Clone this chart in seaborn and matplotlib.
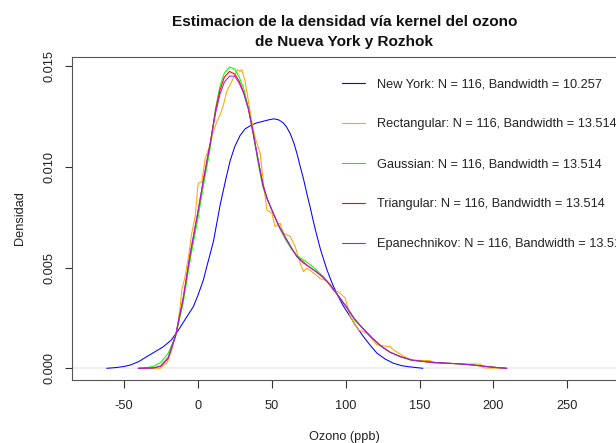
import matplotlib
matplotlib.use("Agg")
import matplotlib.pyplot as plt
from matplotlib.lines import Line2D
import pandas as pd
import seaborn as sns

# ---------------- data ----------------
ny_x = [-61.6, -55, -50, -45.8, -40, -34.5, -29, -23.3, -18, -13.5, -7.4, -3, 0, 3.8,
        6.1, 10.6, 15.1, 19, 21.9, 25, 28.6, 32, 36.5, 40, 44.4, 48, 51.5, 55, 57.9, 60,
        62.5, 65, 67, 69, 71.5, 74, 76, 78, 80.5, 83, 87.3, 91, 94.1, 98, 103.1, 107,
        112.1, 116, 121.2, 127, 132.4, 138, 143.7, 152.3]
ny_y = [0.0, 0.00004, 0.00009, 0.00016, 0.00033, 0.00058, 0.00082, 0.00107, 0.00140,
        0.00185, 0.00256, 0.00306, 0.00360, 0.00439, 0.00505, 0.00630, 0.00810, 0.00940,
        0.01030, 0.01100, 0.01155, 0.01188, 0.01208, 0.01218, 0.01226, 0.01233, 0.01238,
        0.01232, 0.01217, 0.01198, 0.01165, 0.01118, 0.01068, 0.01010, 0.00940, 0.00860,
        0.00800, 0.00735, 0.00660, 0.00590, 0.00490, 0.00420, 0.00370, 0.00315, 0.00256,
        0.00210, 0.00157, 0.00120, 0.00075, 0.00045, 0.00025, 0.00013, 0.00007, 0.0]

rect_x = [-40.2, -25.3, -23.3, -21, -17.6, -14.2, -12, -10.8, -8.6, -6.3, -4.1, -1.8, 0.0,
          0.5, 2.7, 5, 8.3, 10.6, 12.9, 15.1, 17.4, 19.6, 23, 25.2, 26.8, 28.6, 29.8, 32,
          34.3, 36.5, 38.8, 40, 42.2, 44.4, 46.7, 50.1, 52.3, 55.7, 57.9, 62.5, 65.9, 69.3,
          71.5, 73.8, 77.2, 82.8, 87.3, 91.7, 95.1, 99.7, 103.1, 108.7, 114.4, 121.2, 130.2,
          132.4, 143.7, 157.2, 159.5, 188.9, 191.2, 193.5, 209]
rect_y = [0.0, 0.0, 0.00016, 0.00025, 0.00091, 0.00190, 0.00300, 0.00389, 0.00455, 0.00554,
          0.00670, 0.00753, 0.00900, 0.00919, 0.00925, 0.01040, 0.01109, 0.01175, 0.01225,
          0.01258, 0.01308, 0.01374, 0.01424, 0.01457, 0.01482, 0.01473, 0.01482, 0.01424,
          0.01324, 0.01225, 0.01142, 0.01118, 0.01068, 0.00919, 0.00786, 0.00770, 0.00703,
          0.00720, 0.00671, 0.00654, 0.00604, 0.00520, 0.00480, 0.00497, 0.00480, 0.00445,
          0.00435, 0.00385, 0.00380, 0.00350, 0.00256, 0.00190, 0.00174, 0.00116, 0.00107,
          0.00091, 0.00041, 0.00038, 0.00025, 0.00021, 0.00020, 0.00002, 0.0]

roz_x = [-40.2, -35, -30, -25, -20, -15, -10, -5, 0, 4, 8, 12, 15, 18, 21.5, 25, 28, 31,
         34.3, 37.6, 41, 44, 47, 51, 55, 60, 64, 67, 71, 75, 80, 85, 90, 96, 101, 106, 112,
         118, 124, 130, 137, 145, 155, 165, 175, 185, 195, 202, 209]
gauss_y = [0.0, 0.00003, 0.00010, 0.00030, 0.00075, 0.00160, 0.00320, 0.00545, 0.00740,
           0.00915, 0.01075, 0.01290, 0.01400, 0.01465, 0.01495, 0.01485, 0.01445, 0.01390,
           0.01291, 0.01155, 0.01010, 0.00900, 0.00840, 0.00770, 0.00700, 0.00630, 0.00585,
           0.00560, 0.00540, 0.00520, 0.00490, 0.00455, 0.00410, 0.00350, 0.00300, 0.00240,
           0.00195, 0.00150, 0.00110, 0.00080, 0.00058, 0.00042, 0.00032, 0.00026, 0.00023,
           0.00018, 0.00010, 0.00005, 0.0]
tri_y = [0.0, 0.00001, 0.00002, 0.00010, 0.00050, 0.00160, 0.00340, 0.00570, 0.00770,
         0.00940, 0.01100, 0.01280, 0.01380, 0.01445, 0.01473, 0.01460, 0.01425, 0.01370,
         0.01285, 0.01160, 0.01025, 0.00910, 0.00840, 0.00770, 0.00705, 0.00640, 0.00590,
         0.00555, 0.00530, 0.00505, 0.00480, 0.00450, 0.00410, 0.00350, 0.00300, 0.00245,
         0.00195, 0.00150, 0.00110, 0.00080, 0.00058, 0.00040, 0.00032, 0.00027, 0.00023,
         0.00017, 0.00009, 0.00004, 0.0]
epan_y = [0.0, 0.00001, 0.00002, 0.00012, 0.00055, 0.00165, 0.00345, 0.00575, 0.00775,
          0.00945, 0.01100, 0.01265, 0.01360, 0.01420, 0.01450, 0.01450, 0.01415, 0.01365,
          0.01285, 0.01165, 0.01030, 0.00915, 0.00840, 0.00770, 0.00705, 0.00640, 0.00590,
          0.00555, 0.00525, 0.00505, 0.00480, 0.00450, 0.00410, 0.00350, 0.00300, 0.00245,
          0.00195, 0.00150, 0.00110, 0.00080, 0.00058, 0.00040, 0.00032, 0.00027, 0.00023,
          0.00017, 0.00009, 0.00004, 0.0]

series_labels = [
    "New York: N = 116, Bandwidth = 10.257",
    "Rectangular: N = 116, Bandwidth = 13.514",
    "Gaussian: N = 116, Bandwidth = 13.514",
    "Triangular: N = 116, Bandwidth = 13.514",
    "Epanechnikov: N = 116, Bandwidth = 13.514",
]
series_colors = ["#0000FF", "#FFA500", "#00FF00", "#FF0000", "#A020F0"]

x_ticks = [-50, 0, 50, 100, 150, 200, 250]
y_ticks = [0.0, 0.005, 0.010, 0.015]
y_tick_labels = ["0.000", "0.005", "0.010", "0.015"]

title = "Estimacion de la densidad vía kernel del ozono\nde Nueva York y Rozhok"
x_label = "Ozono (ppb)"
y_label = "Densidad"

# ---------------- build long table ----------------
series_x = [ny_x, rect_x, roz_x, roz_x, roz_x]
series_y = [ny_y, rect_y, gauss_y, tri_y, epan_y]
frames = [pd.DataFrame({"x": xs, "y": ys, "serie": lab})
          for lab, xs, ys in zip(series_labels, series_x, series_y)]
df = pd.concat(frames, ignore_index=True)

# ---------------- style ----------------
sns.set_style("white")
plt.rcParams["font.family"] = ["Liberation Sans", "DejaVu Sans"]

W, H = 616, 443
fig = plt.figure(figsize=(W / 100, H / 100), dpi=100)
left, right, top, bottom = 71.7, 617.0, 56.7, 380.0
ax = fig.add_axes([left / W, 1 - bottom / H, (right - left) / W, (bottom - top) / H])

ax.axhline(0, color="#BEBEBE", lw=0.35, zorder=0.5)
sns.lineplot(data=df, x="x", y="y", hue="serie", hue_order=series_labels,
             palette=series_colors, linewidth=0.75, estimator=None, sort=False,
             legend=False, ax=ax)

ax.set_xlim(-85.3, 283.6)
ax.set_ylim(-0.00058, 0.015462)
ax.set_xticks(x_ticks)
ax.set_xticklabels([str(t) for t in x_ticks])
ax.set_yticks(y_ticks)
ax.set_yticklabels(y_tick_labels, rotation=90, va="center")

for s in ax.spines.values():
    s.set_visible(True)
    s.set_color("#555555")
    s.set_linewidth(0.8)

ax.tick_params(axis="both", which="major", direction="out", length=5.4, width=0.8,
               color="#333333", labelcolor="#222222", labelsize=9.2,
               bottom=True, left=True, top=False, right=False)
ax.tick_params(axis="x", pad=9.0)
ax.tick_params(axis="y", pad=6.0)
ax.grid(False)

ax.set_xlabel(x_label, fontsize=9.2, color="#222222")
ax.set_ylabel(y_label, fontsize=9.2, color="#222222")
ax.xaxis.label.set(va="center", ha="center")
ax.yaxis.label.set(va="center", ha="center")
ax.xaxis.set_label_coords(0.5, (bottom - 437.0) / (bottom - top))
ax.yaxis.set_label_coords((20.0 - left) / (right - left), 0.5)

ax.set_title(title, fontsize=11.1, fontweight="bold", color="#111111",
             linespacing=1.5, pad=8)

handles = [Line2D([0], [0], color=c, lw=0.8) for c in series_colors]
ax.legend(handles, series_labels, loc="upper left",
          bbox_to_anchor=(341.7 / W, 1 - 78.5 / H), bbox_transform=fig.transFigure,
          frameon=False, fontsize=9.2, handlelength=1.82, handletextpad=0.91,
          labelspacing=2.19, borderpad=0, borderaxespad=0, labelcolor="#222222")

fig.savefig("out.png", dpi=100, facecolor="white")
